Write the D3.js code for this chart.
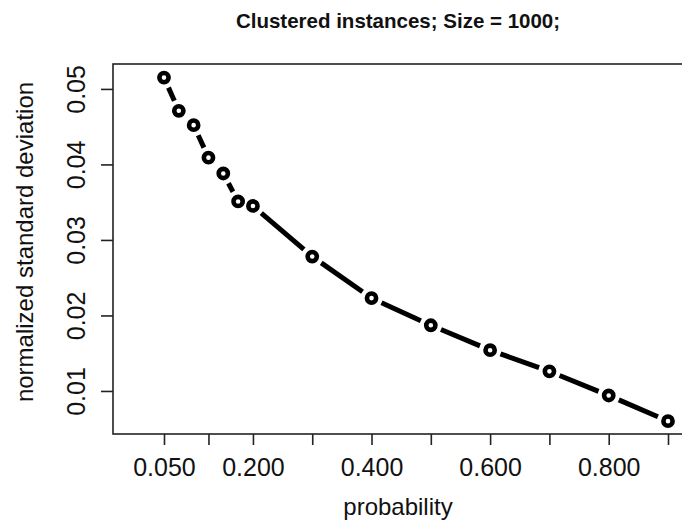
<!DOCTYPE html>
<html>
<head>
<meta charset="utf-8">
<script src="https://cdn.jsdelivr.net/npm/d3@7"></script>
<style>
	body { margin: 0; background: #fff; }
	svg text { font-family: "Liberation Sans", Arial, sans-serif; fill: #111; }
</style>
</head>
<body>
<div id="chart"></div>
<script>
var probability = [0.05, 0.075, 0.1, 0.125, 0.15, 0.175, 0.2, 0.3, 0.4, 0.5, 0.6, 0.7, 0.8, 0.9];
var stdDev = [0.0515, 0.0471, 0.0452, 0.0409, 0.0388, 0.0351, 0.0345, 0.0278, 0.0223, 0.0187, 0.0154, 0.0126, 0.0094, 0.0060];
var xTicks = [0.05, 0.125, 0.2, 0.3, 0.4, 0.5, 0.6, 0.7, 0.8, 0.9];
var xLabels = [0.05, 0.2, 0.4, 0.6, 0.8];
var yTicks = [0.01, 0.02, 0.03, 0.04, 0.05];

var width = 682,
		height = 523;

var box = {left: 113, top: 64, right: 690, bottom: 434};

var svg = d3.select("#chart").append("svg")
	.attr("width", width)
	.attr("height", height);

var x = d3.scaleLinear().domain([-0.036, 0.9 + (box.right - 668) / 593]).range([box.left, box.right]),
		y = d3.scaleLinear().domain([0.0043, 0.0533]).range([box.bottom, box.top]);

// title
svg.append("text")
	.attr("x", 398)
	.attr("y", 28)
	.attr("text-anchor", "middle")
	.style("font-size", "20.5px")
	.style("font-weight", "bold")
	.text("Clustered instances; Size = 1000;");

// plot box
svg.append("rect")
	.attr("x", box.left)
	.attr("y", box.top)
	.attr("width", box.right - box.left)
	.attr("height", box.bottom - box.top)
	.attr("fill", "none")
	.attr("stroke", "#222")
	.attr("stroke-width", 1.6);

// x axis
var xAxis = d3.axisBottom(x)
	.tickValues(xTicks)
	.tickSize(11)
	.tickFormat(function(d) {
		return xLabels.some(function(v) { return Math.abs(v - d) < 1e-9; }) ? d3.format(".3f")(d) : "";
	});

var gx = svg.append("g")
	.attr("transform", "translate(0," + box.bottom + ")")
	.call(xAxis);
gx.select(".domain").remove();
gx.selectAll(".tick line").attr("stroke", "#222").attr("stroke-width", 1.6);
gx.selectAll(".tick text")
	.attr("y", 0)
	.attr("dy", null)
	.attr("transform", "translate(0,42)")
	.style("font-size", "25px")
	.attr("fill", "#111");

// y axis
var yAxis = d3.axisLeft(y)
	.tickValues(yTicks)
	.tickSize(12)
	.tickFormat(d3.format(".2f"));

var gy = svg.append("g")
	.attr("transform", "translate(" + box.left + ",0)")
	.call(yAxis);
gy.select(".domain").remove();
gy.selectAll(".tick line").attr("stroke", "#222").attr("stroke-width", 1.6);
gy.selectAll(".tick text")
	.attr("x", 0)
	.attr("dy", null)
	.attr("transform", "translate(-28,0) rotate(-90)")
	.attr("text-anchor", "middle")
	.style("font-size", "25px")
	.attr("fill", "#111");

// axis titles
svg.append("text")
	.attr("x", 398)
	.attr("y", 515)
	.attr("text-anchor", "middle")
	.style("font-size", "24px")
	.text("probability");

svg.append("text")
	.attr("transform", "translate(33,242) rotate(-90)")
	.attr("text-anchor", "middle")
	.style("font-size", "24px")
	.text("normalized standard deviation");

// line segments with gaps around points (like type = "b")
var pts = probability.map(function(p, i) {
	return [x(p), y(stdDev[i])];
});
var gap = 11;
var segs = [];
for (var i = 0; i < pts.length - 1; i++) {
	var a = pts[i], b = pts[i + 1],
			dx = b[0] - a[0], dy = b[1] - a[1],
			len = Math.sqrt(dx * dx + dy * dy);
	if (len <= 2 * gap) continue;
	var ux = dx / len, uy = dy / len;
	segs.push([[a[0] + ux * gap, a[1] + uy * gap], [b[0] - ux * gap, b[1] - uy * gap]]);
}

svg.append("g").selectAll("line")
	.data(segs)
	.enter().append("line")
		.attr("x1", function(d) { return d[0][0]; })
		.attr("y1", function(d) { return d[0][1]; })
		.attr("x2", function(d) { return d[1][0]; })
		.attr("y2", function(d) { return d[1][1]; })
		.attr("stroke", "#000")
		.attr("stroke-width", 5);

svg.append("g").selectAll("circle")
	.data(probability)
	.enter().append("circle")
		.attr("cx", function(d) { return x(d); })
		.attr("cy", function(d, i) { return y(stdDev[i]); })
		.attr("r", 4.6)
		.attr("fill", "#fff")
		.attr("stroke", "#000")
		.attr("stroke-width", 4.6);
</script>
</body>
</html>
